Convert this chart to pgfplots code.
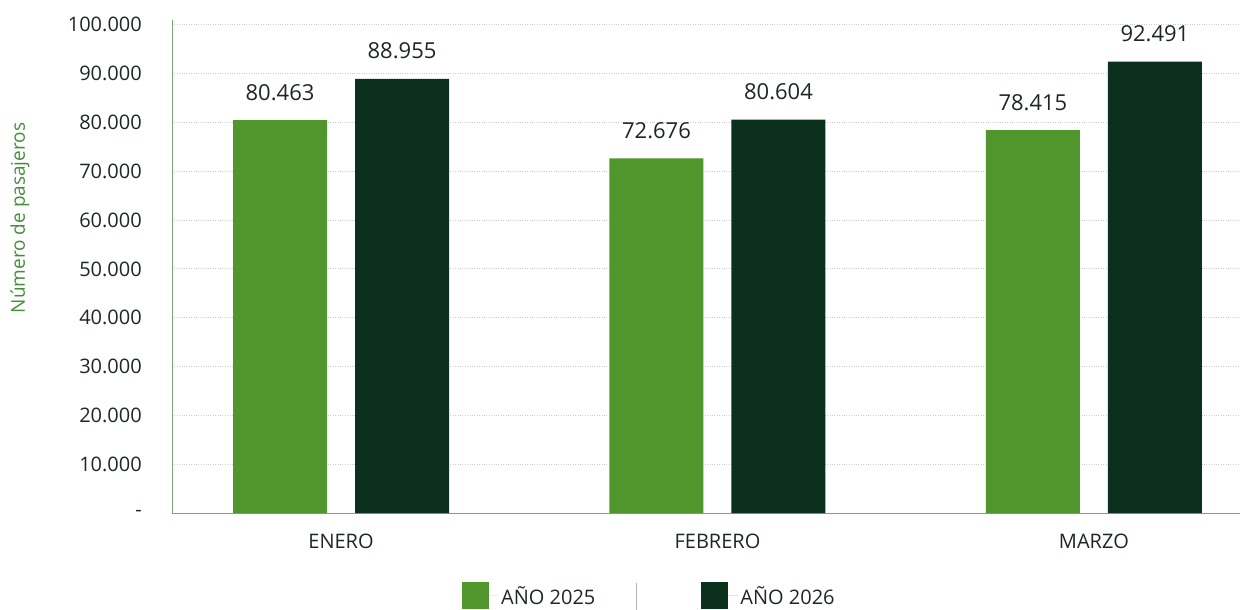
\documentclass[border=0pt]{standalone}
\usepackage{pgfplots}
\pgfplotsset{compat=1.18}
\usepackage{fontspec}
\setmainfont{Open Sans}
\definecolor{lg}{RGB}{80,150,45}
\definecolor{dg}{RGB}{12,48,30}
\definecolor{axc}{RGB}{130,160,120}
\definecolor{ylc}{RGB}{70,140,60}
\definecolor{txt}{RGB}{30,40,35}
\begin{document}
\begin{tikzpicture}
\path[use as bounding box] (0,0) rectangle (1243pt,-610pt);
\begin{axis}[
  at={(172pt,-513pt)}, anchor=south west,
  scale only axis, width=1068pt, height=493pt,
  xmin=-0.449, xmax=2.388, ymin=0, ymax=101000,
  axis lines=left,
  axis line style={draw=axc, line width=1pt, -},
  scaled y ticks=false,
  xtick={0,1,2}, xticklabels={ENERO,FEBRERO,MARZO},
  ytick={0,10000,20000,30000,40000,50000,60000,70000,80000,90000,100000},
  yticklabels={-,10.000,20.000,30.000,40.000,50.000,60.000,70.000,80.000,90.000,100.000},
  ymajorgrids,
  major grid style={dotted, gray!40, line width=1pt},
  major tick length=0pt,
  yticklabel style={anchor=east, inner sep=0pt, xshift=-30pt, font=\fontsize{20}{24}\selectfont, color=txt},
  xticklabel style={yshift=-17pt, font=\fontsize{20}{24}\selectfont, color=txt},
  ybar, bar width=94pt,
  nodes near coords, point meta=explicit symbolic,
  nodes near coords style={font=\fontsize{22}{26}\selectfont, color=txt, anchor=south, yshift=16pt},
  legend columns=2,
  legend style={at={(0.447,-0.168)}, anchor=center, draw=none, fill=none,
    font=\fontsize{20}{24}\selectfont, text=txt,
    /tikz/every even column/.append style={column sep=104pt}},
  legend image code/.code={\fill[#1] (0pt,-13.5pt) rectangle (27pt,13.5pt); \path (0pt,0pt) -- (37pt,0pt);},
]
\addplot[fill=lg, draw=none, bar shift=-61pt] coordinates {(0,80463)[80.463] (1,72676)[72.676] (2,78415)[78.415]};
\addplot[fill=dg, draw=none, bar shift=61pt] coordinates {(0,88955)[88.955] (1,80604)[80.604] (2,92491)[92.491]};
\legend{AÑO 2025, AÑO 2026}
\end{axis}
\node[rotate=90, color=ylc, font=\fontsize{19}{23}\selectfont] at (20pt,-218pt) {Número de pasajeros};
\draw[color=gray!60, line width=1pt] (636pt,-583pt) -- (636pt,-610pt);
\end{tikzpicture}
\end{document}
